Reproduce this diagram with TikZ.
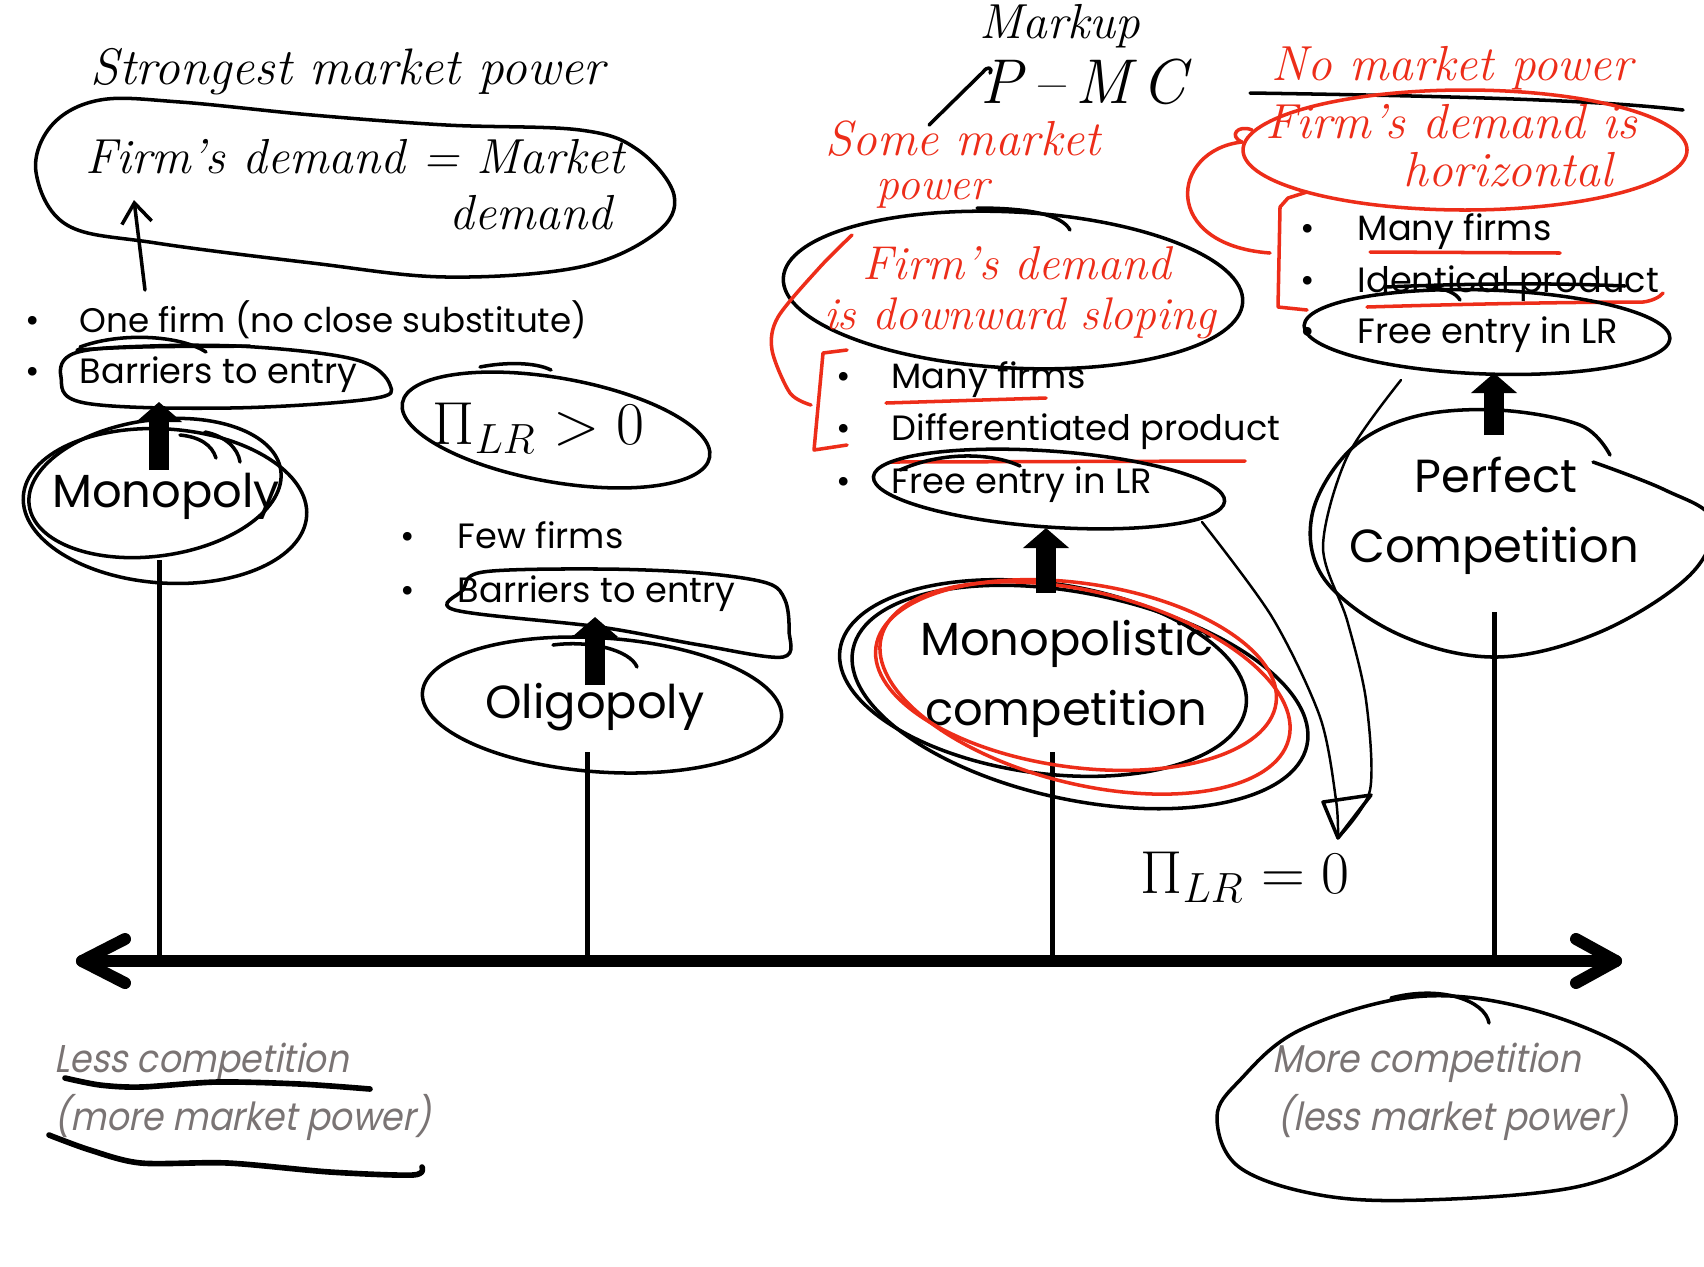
\documentclass[tikz,border=0pt]{standalone}
\usepackage{fontspec}
\usetikzlibrary{arrows.meta}
\newfontfamily\slidefont{Poppins}
\newfontfamily\grayfont{Poppins}[FakeSlant=0.2,FakeStretch=0.9]
\definecolor{hred}{RGB}{237,45,25}
\definecolor{tgray}{RGB}{122,116,116}
\begin{document}
\begin{tikzpicture}[x=0.01cm,y=-0.01cm,
 pen/.style={line width=1pt,line cap=round,line join=round},
 thinpen/.style={line width=0.7pt,line cap=round,line join=round},
 rpen/.style={pen,draw=hred},
 txt/.style={font=\slidefont\fontsize{10}{12}\selectfont,anchor=base west,inner sep=0pt},
 bul/.style={font=\slidefont\fontsize{10}{12}\selectfont,anchor=base,inner sep=0pt},
 lbl/.style={font=\slidefont\fontsize{13.2}{16}\selectfont,anchor=base,inner sep=0pt},
 hand/.style={font=\itshape\fontsize{14}{16}\selectfont,inner sep=0pt},
 bighand/.style={font=\itshape\fontsize{18}{20}\selectfont,inner sep=0pt},
 rhand/.style={hand,text=hred},
 gtxt/.style={font=\grayfont\fontsize{11}{13}\selectfont,text=tgray,anchor=base west,inner sep=0pt},
 tickline/.style={line width=0.05cm},
 blk/.style={line width=0.2cm,-{Triangle[width=0.45cm,length=0.2cm]}},
 axisline/.style={line width=0.12cm,line cap=round,line join=round}]
\useasboundingbox (0,0) rectangle (1704,1266);
\fill[white] (0,0) rectangle (1704,1266);

% ---------- ticks and axis ----------
\coordinate (t1) at (159,961); \coordinate (t1top) at (159,560);
\coordinate (t2) at (587,961); \coordinate (t2top) at (587,752);
\coordinate (t3) at (1052,961); \coordinate (t3top) at (1052,752);
\coordinate (t4) at (1494,961); \coordinate (t4top) at (1494,612);
\draw[tickline] (t1) -- (t1top);
\draw[tickline] (t2) -- (t2top);
\draw[tickline] (t3) -- (t3top);
\draw[tickline] (t4) -- (t4top);
\coordinate (axL) at (82,961);
\coordinate (axR) at (1616,961);
\draw[axisline] (axL) -- (axR);
\draw[axisline] (125,939) -- (axL) -- (125,983);
\draw[axisline] (1576,939) -- (axR) -- (1576,983);

% ---------- Monopoly ----------
\node[hand,font=\itshape\fontsize{14.6}{16}\selectfont] (strong) at (348,72) {Strongest market power};
\draw[pen] plot[smooth cycle,tension=0.6] coordinates {(36,172) (52,125) (100,100) (180,102) (312,115) (446,125) (580,130) (638,150) (674,195) (656,233) (580,267) (446,277) (312,263) (156,243) (67,225)};
\node[hand] (fd1) at (355,157) {Firm's demand = Market};
\node[hand] (fd2) at (531,213) {demand};
\coordinate (a1s) at (145,290); \coordinate (a1e) at (134,200);
\draw[pen,-{Straight Barb[length=0.2cm,width=0.3cm]}] (a1s) -- (a1e);

\node[bul] (mb1) at (33,332) {\textbullet};
\node[txt,font=\slidefont\fontsize{9.7}{12}\selectfont] (mono1) at (79,332) {One firm (no close substitute)};
\node[bul] (mb2) at (33,383) {\textbullet};
\node[txt] (mono2) at (79,383) {Barriers to entry};
\draw[pen] plot[smooth cycle,tension=0.6] coordinates {(61,377) (85,403) (230,408) (370,399) (390,385) (357,360) (255,347) (150,346) (75,353)};
\draw[pen] (77,350) .. controls (150,345) and (200,347) .. (250,346);
\draw[pen] (80,347) .. controls (120,332) and (180,335) .. (206,352);

\node[lbl] (mono) at (166,507) {Monopoly};
\draw[pen,rotate around={8:(155,488)}] (155,488) ellipse [x radius=127,y radius=68];
\draw[pen,rotate around={-4:(165,506)}] (165,506) ellipse [x radius=142,y radius=77];
\draw[pen] (180,435) .. controls (200,437) and (212,445) .. (216,458);
\draw[pen] (205,432) .. controls (225,436) and (238,448) .. (240,462);
\coordinate (mA) at (159,470); \coordinate (mB) at (159,402);
\draw[blk] (mA) -- (mB);

% ---------- Oligopoly ----------
\draw[pen,rotate around={-10:(556,430)}] (556,430) ellipse [x radius=156,y radius=52];
\draw[pen] (480,367) .. controls (505,362) and (535,362) .. (551,370);
\node[bighand,anchor=west] (pigt) at (432,428) {$\Pi_{LR} > 0$};

\node[bul] (ob1) at (408,548) {\textbullet};
\node[txt] (oli1) at (457,548) {Few firms};
\node[bul] (ob2) at (408,602) {\textbullet};
\node[txt] (oli2) at (457,602) {Barriers to entry};
\draw[pen] plot[smooth cycle,tension=0.55] coordinates {(455,610) (600,627) (700,645) (783,657) (789,630) (785,600) (767,583) (700,573) (600,569) (483,572) (463,590)};
\node[lbl] (oli) at (595,718) {Oligopoly};
\draw[pen,rotate around={-4:(602,705)}] (602,705) ellipse [x radius=180,y radius=67];
\draw[pen] (553,645) .. controls (590,640) and (630,650) .. (637,667);
\coordinate (oA) at (595,685); \coordinate (oB) at (595,617);
\draw[blk] (oA) -- (oB);

% ---------- Monopolistic competition ----------
\node[hand] (markup) at (1060,26) {Markup};
\node[bighand] (pmc) at (1083,82) {P\,--\,M\,C};
\node[rhand] (some1) at (963,139) {Some market};
\node[rhand,font=\itshape\fontsize{13}{15}\selectfont] (some2) at (933,194) {power};
\coordinate (c1) at (929,125); \coordinate (c2) at (983,72);
\draw[pen] (c1) -- (c2) .. controls (987,66) and (993,67) .. (990,73);

\draw[pen,rotate around={-3:(1013,290)}] (1013,290) ellipse [x radius=230,y radius=78];
\draw[pen] (977,208) .. controls (1030,208) and (1062,215) .. (1070,230);
\node[rhand,font=\itshape\fontsize{13.5}{15}\selectfont] (sl1) at (1017,263) {Firm's demand};
\node[rhand,font=\itshape\fontsize{13}{15}\selectfont] (sl2) at (1020,318) {is downward sloping};
\draw[rpen] plot[smooth] coordinates {(852,235) (820,267) (778,317) (772,350) (790,393) (811,405)};
\draw[rpen] (847,350) -- (823,353) -- (814,450) -- (847,445);

\node[bul] (cb1) at (844,388) {\textbullet};
\node[txt] (mc1t) at (891,388) {Many firms};
\node[bul] (cb2) at (844,440) {\textbullet};
\node[txt] (mc2t) at (891,440) {Differentiated product};
\node[bul] (cb3) at (844,493) {\textbullet};
\node[txt] (mc3t) at (891,493) {Free entry in LR};
\draw[rpen] (886,403) -- (1046,398);
\draw[rpen] (891,462) -- (1245,461);
\draw[pen,rotate around={-4:(1049,489)}] (1049,489) ellipse [x radius=176,y radius=38];
\draw[pen] (900,470) .. controls (940,452) and (990,452) .. (1020,466);

\node[lbl] (mcl1) at (1067,655) {Monopolistic};
\node[lbl] (mcl2) at (1066,725) {competition};
\draw[pen,rotate around={-8:(1043,678)}] (1043,678) ellipse [x radius=205,y radius=95];
\draw[pen,rotate around={-12:(1080,697)}] (1080,697) ellipse [x radius=232,y radius=103];
\draw[rpen,rotate around={-8:(1076,675)}] (1076,675) ellipse [x radius=202,y radius=92];
\draw[rpen,rotate around={-14:(1085,688)}] (1085,688) ellipse [x radius=210,y radius=96];
\coordinate (cA) at (1046,593); \coordinate (cB) at (1046,528);
\draw[blk] (cA) -- (cB);

% ---------- Perfect competition ----------
\node[rhand] (nomp) at (1452,68) {No market power};
\draw[pen] (1250,93) .. controls (1450,96) and (1600,100) .. (1683,110);
\draw[rpen] (1465,150) ellipse [x radius=222,y radius=60];
\node[rhand] (hz1) at (1451,122) {Firm's demand is};
\node[rhand] (hz2) at (1508,170) {horizontal};
\draw[rpen] (1252,130) .. controls (1238,124) and (1228,136) .. (1242,142) .. controls (1170,150) and (1160,245) .. (1270,253);
\draw[rpen] (1307,192) -- (1288,198) -- (1280,207) -- (1278,307) -- (1307,310);

\node[bul] (pb1) at (1308,240) {\textbullet};
\node[txt] (pc1t) at (1357,240) {Many firms};
\node[bul] (pb2) at (1308,292) {\textbullet};
\node[txt] (pc2t) at (1357,292) {Identical product};
\node[bul] (pb3) at (1308,343) {\textbullet};
\node[txt] (pc3t) at (1357,343) {Free entry in LR};
\draw[rpen] (1370,252) -- (1560,253);
\draw[pen] (1385,287) .. controls (1480,283) and (1560,283) .. (1625,286);
\draw[rpen] (1367,307) .. controls (1500,303) and (1600,302) .. (1643,302) .. controls (1652,301) and (1660,297) .. (1663,293);
\draw[pen,rotate around={-2:(1487,332)}] (1487,332) ellipse [x radius=183,y radius=42];
\draw[pen] (1427,287) .. controls (1445,288) and (1456,293) .. (1460,300);

\node[lbl] (pcl1) at (1496,492) {Perfect};
\node[lbl] (pcl2) at (1494,562) {Competition};
\begin{scope}
\clip (0,0) rectangle (1704,1266);
\draw[pen] plot[smooth,tension=0.6] coordinates {(1610,455) (1580,425) (1497,410) (1413,417) (1350,450) (1312,515) (1325,580) (1400,635) (1497,657) (1600,632) (1690,575) (1712,520) (1665,490) (1593,462)};
\end{scope}
\coordinate (pA) at (1494,435); \coordinate (pB) at (1494,373);
\draw[blk] (pA) -- (pB);

% ---------- profit zero arrows ----------
\coordinate (l1s) at (1202,522);
\coordinate (l2s) at (1401,380);
\coordinate (piTip) at (1338,838);
\draw[thinpen] plot[smooth] coordinates {(l1s) (1272,617) (1320,717) (1336,800) (piTip)};
\draw[thinpen] plot[smooth] coordinates {(l2s) (1347,457) (1323,547) (1347,620) (1366,700) (1370,790) (piTip)};
\draw[pen] (1323,802) -- (1371,795) -- (piTip) -- cycle;
\node[bighand,anchor=west] (pieq) at (1140,877) {$\Pi_{LR} = 0$};

% ---------- bottom labels ----------
\node[gtxt] (less1) at (54,1072) {Less competition};
\node[gtxt] (less2) at (54,1130) {(more market power)};
\node[gtxt] (more1) at (1272,1072) {More competition};
\node[gtxt] (more2) at (1277,1130) {(less market power)};
\draw[pen,line width=1.6pt] plot[smooth] coordinates {(65,1078) (100,1085) (141,1087) (217,1082) (300,1084) (370,1089)};
\draw[pen,line width=1.6pt] plot[smooth] coordinates {(49,1135) (90,1150) (141,1163) (228,1163) (330,1172) (413,1175) (422,1167)};
\draw[pen] plot[smooth cycle,tension=0.6] coordinates {(1413,997) (1300,1030) (1240,1080) (1217,1117) (1239,1167) (1320,1195) (1424,1200) (1576,1187) (1660,1150) (1674,1107) (1630,1050) (1522,1007)};
\draw[pen] (1391,998) .. controls (1440,985) and (1485,1000) .. (1489,1023);
\end{tikzpicture}
\end{document}
